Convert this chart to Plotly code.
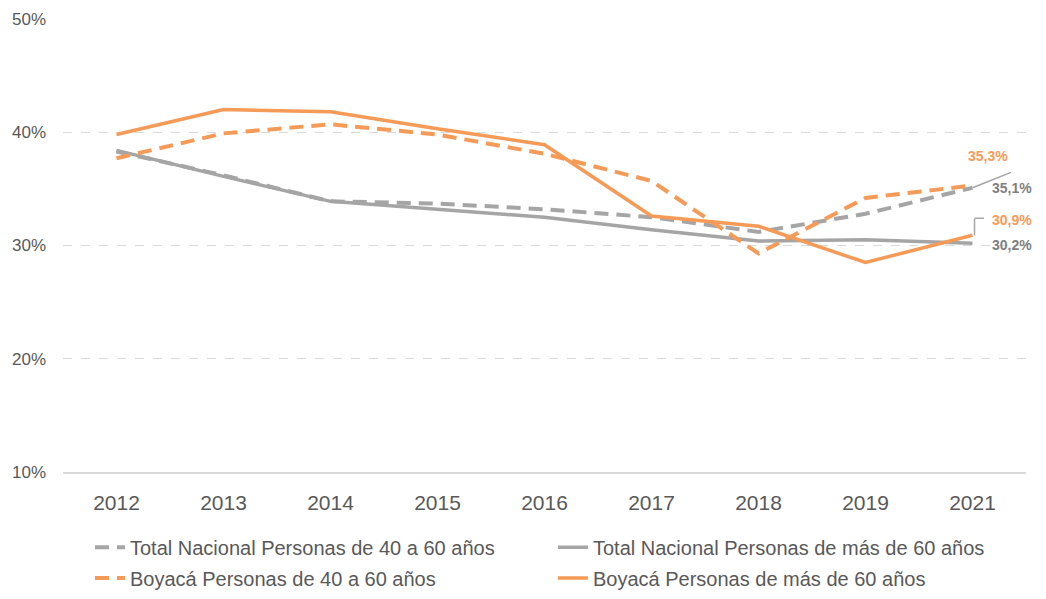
import plotly.graph_objects as go

years = ["2012", "2013", "2014", "2015", "2016", "2017", "2018", "2019", "2021"]
total_40_60 = [38.3, 36.2, 33.9, 33.7, 33.2, 32.5, 31.2, 32.8, 35.1]
total_60_mas = [38.4, 36.1, 33.9, 33.2, 32.5, 31.4, 30.4, 30.5, 30.2]
boyaca_40_60 = [37.7, 39.9, 40.7, 39.8, 38.1, 35.7, 29.3, 34.2, 35.3]
boyaca_60_mas = [39.8, 42.0, 41.8, 40.3, 38.9, 32.6, 31.7, 28.5, 30.9]

names = [
    "Total Nacional Personas de 40 a 60 años",
    "Total Nacional Personas de más de 60 años",
    "Boyacá Personas de 40 a 60 años",
    "Boyacá Personas de más de 60 años",
]

GRAY = "#A5A5A5"
ORANGE = "#F59A57"
TXT = "#595959"
FONT = "Liberation Sans, Arial, sans-serif"
DASH = "14px,8px"

fig = go.Figure()
fig.add_trace(go.Scatter(x=years, y=total_40_60, name=names[0], mode="lines",
                         line=dict(color=GRAY, width=4, dash=DASH), legend="legend"))
fig.add_trace(go.Scatter(x=years, y=total_60_mas, name=names[1], mode="lines",
                         line=dict(color=GRAY, width=3.5), legend="legend"))
fig.add_trace(go.Scatter(x=years, y=boyaca_40_60, name=names[2], mode="lines",
                         line=dict(color=ORANGE, width=4, dash=DASH), legend="legend2"))
fig.add_trace(go.Scatter(x=years, y=boyaca_60_mas, name=names[3], mode="lines",
                         line=dict(color=ORANGE, width=3.5), legend="legend2"))

# category index of the last year (numeric-looking names would be read as indices)
last = len(years) - 1

def fmt(v):
    return f"{v:.1f}".replace(".", ",") + "%"

lab_font = dict(family=FONT, size=14)
annotations = [
    dict(x=last, y=boyaca_40_60[-1], text="<b>" + fmt(boyaca_40_60[-1]) + "</b>",
         showarrow=False, xanchor="center", yanchor="middle", xshift=15, yshift=29,
         font=dict(color=ORANGE, **lab_font)),
    dict(x=last, y=total_40_60[-1], text="<b>" + fmt(total_40_60[-1]) + "</b>",
         showarrow=False, xanchor="left", yanchor="middle", xshift=17, yshift=0,
         font=dict(color="#7F7F7F", **lab_font)),
    dict(x=last, y=boyaca_60_mas[-1], text="<b>" + fmt(boyaca_60_mas[-1]) + "</b>",
         showarrow=False, xanchor="left", yanchor="middle", xshift=17, yshift=15,
         font=dict(color=ORANGE, **lab_font)),
    dict(x=last, y=total_60_mas[-1], text="<b>" + fmt(total_60_mas[-1]) + "</b>",
         showarrow=False, xanchor="left", yanchor="middle", xshift=17, yshift=-2,
         font=dict(color="#7F7F7F", **lab_font)),
    # leader lines
    dict(x=last, y=total_40_60[-1], text="", showarrow=True, arrowhead=0, arrowwidth=1.5,
         arrowcolor=GRAY, ax=40, ay=-16, standoff=0, startstandoff=0),
    dict(x=last, y=boyaca_60_mas[-1], text="", showarrow=True, arrowhead=0, arrowwidth=1.5,
         arrowcolor=GRAY, ax=0, ay=-18, xshift=2, standoff=0, startstandoff=0),
    dict(x=last, y=boyaca_60_mas[-1], text="", showarrow=True, arrowhead=0, arrowwidth=1.5,
         arrowcolor=GRAY, ax=11, ay=0, xshift=2, yshift=17, standoff=0, startstandoff=0),
]

# the page body has an 8px margin, so the figure is sized to fit the window inside it
fig.update_layout(
    width=1030, height=583,
    margin=dict(l=55, r=12, t=11, b=119, autoexpand=False),
    plot_bgcolor="white", paper_bgcolor="white",
    font=dict(family=FONT, color=TXT, size=20),
    annotations=annotations,
    xaxis=dict(type="category", showgrid=False, showline=True, linecolor="#D9D9D9", linewidth=1.5,
               ticks="", ticklabelstandoff=11, tickfont=dict(size=21, color=TXT),
               range=[-0.5, len(years) - 0.5], automargin=False),
    yaxis=dict(range=[10, 50], dtick=10, ticksuffix="%", showgrid=True, gridcolor="#D9D9D9",
               griddash="dash", gridwidth=1, zeroline=False, showline=False,
               ticks="", ticklabelstandoff=16, tickfont=dict(size=17, color=TXT), automargin=False),
    legend=dict(orientation="h", x=0.028, y=-0.166, xanchor="left", yanchor="middle",
                entrywidth=418, font=dict(size=20, color=TXT), bgcolor="rgba(0,0,0,0)"),
    legend2=dict(orientation="h", x=0.028, y=-0.234, xanchor="left", yanchor="middle",
                 entrywidth=418, font=dict(size=20, color=TXT), bgcolor="rgba(0,0,0,0)"),
    showlegend=True,
)

fig.write_html("out.html")
